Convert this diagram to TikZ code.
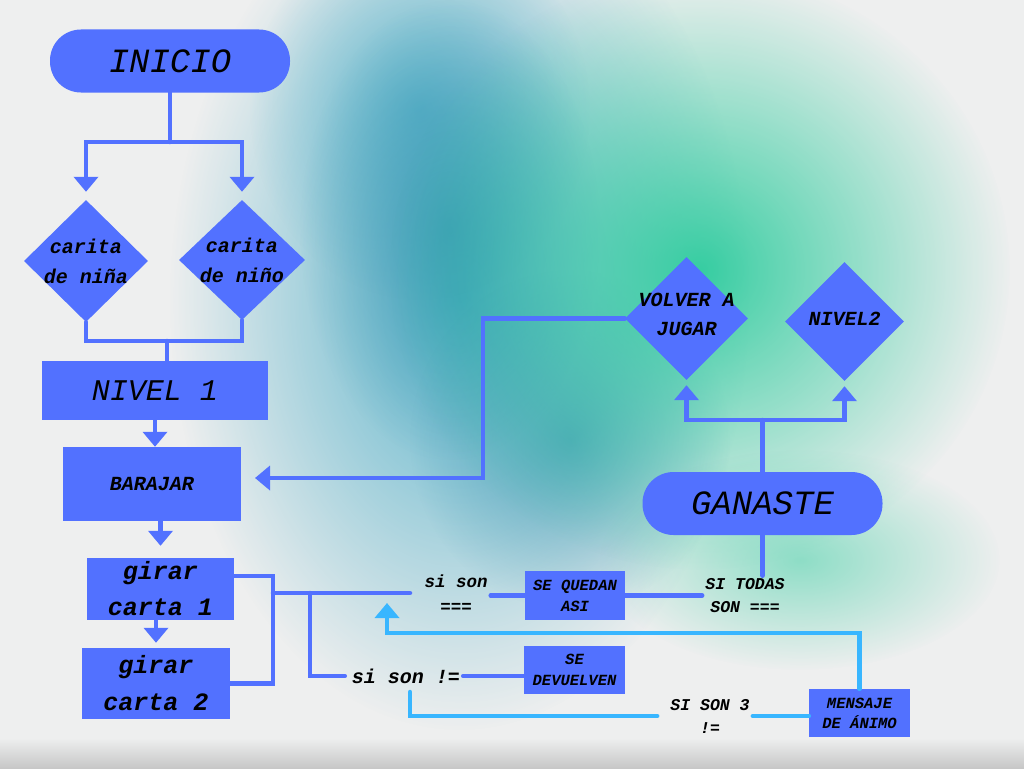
\documentclass[tikz,border=0pt]{standalone}
\usepackage{fontspec}
\newfontfamily\maquina{Liberation Mono}
\usetikzlibrary{shapes.geometric,arrows.meta,fadings}
\definecolor{azulcaja}{RGB}{82,113,255}
\definecolor{celeste}{RGB}{56,182,255}
\definecolor{papel}{RGB}{238,239,239}
\definecolor{acuarela}{RGB}{72,172,198}
\definecolor{tinta}{RGB}{40,140,170}
\definecolor{menta}{RGB}{46,204,158}
\tikzfading[name=mancha, inner color=transparent!0, outer color=transparent!100]
\begin{document}
\begin{tikzpicture}[x=1pt, y=-1pt,
  caja/.style={fill=azulcaja, inner sep=0pt, align=center},
  pildora/.style={caja, rounded corners=31pt, minimum width=240pt, minimum height=63pt,
    font=\maquina\itshape\fontsize{34}{36}\selectfont},
  rombo/.style={fill=azulcaja, diamond, inner sep=0pt},
  rombotxt/.style={font=\maquina\bfseries\itshape\fontsize{20}{30}\selectfont, align=center},
  cajatxt/.style={font=\maquina\bfseries\itshape\fontsize{15.5}{21}\selectfont},
  rotulo/.style={inner sep=3pt, align=center, font=\maquina\bfseries\itshape\fontsize{16.5}{23}\selectfont},
  linea/.style={draw=azulcaja, line width=4.5pt, line cap=round},
  flecha/.style={linea, -{Triangle[width=24pt,length=15pt]}},
  lineaceleste/.style={draw=celeste, line width=4.5pt, line cap=round},
  flechaceleste/.style={lineaceleste, -{Triangle[width=24pt,length=15pt]}}]

    % Fondo acuarela
    \fill[papel] (0,0) rectangle (1024,768);
    \useasboundingbox (0,0) rectangle (1024,768);
    \fill[acuarela, path fading=mancha, fill opacity=0.9] (460,300) ellipse [x radius=290, y radius=430];
    \fill[acuarela, path fading=mancha, fill opacity=0.7] (420,110) ellipse [x radius=170, y radius=190];
    \fill[tinta, path fading=mancha, fill opacity=0.6] (450,230) ellipse [x radius=150, y radius=230];
    \fill[tinta, path fading=mancha, fill opacity=0.6] (570,440) ellipse [x radius=160, y radius=170];
    \fill[menta, path fading=mancha, fill opacity=0.95] (700,270) ellipse [x radius=310, y radius=300];
    \fill[menta, path fading=mancha, fill opacity=0.5] (800,560) ellipse [x radius=200, y radius=110];
    \shade[top color=papel, bottom color=black!22] (0,738) rectangle (1024,768);

    % Inicio y caritas
    \node[pildora] (inicio) at (170,61) {INICIO};
    \node[rombo, minimum width=124pt, minimum height=122pt,
      label={[rombotxt]center:carita\\de niña}] (nina) at (86,261) {};
    \node[rombo, minimum width=126pt, minimum height=120pt,
      label={[rombotxt]center:carita\\de niño}] (nino) at (242,260) {};

    \coordinate (bifurca) at (170,142);
    \draw[linea] (inicio.south) -- (bifurca);
    \draw[flecha] (bifurca) -| ([yshift=8pt]nina.north);
    \draw[flecha] (bifurca) -| ([yshift=8pt]nino.north);

    % Nivel 1 y cartas
    \node[caja, minimum width=226pt, minimum height=59pt,
      font=\maquina\itshape\fontsize{30}{32}\selectfont] (nivel1) at (155,390.5) {NIVEL 1};
    \node[caja, minimum width=178pt, minimum height=74pt,
      font=\maquina\bfseries\itshape\fontsize{20}{22}\selectfont] (barajar) at (152,484) {BARAJAR};
    \node[caja, minimum width=147pt, minimum height=62pt,
      font=\maquina\bfseries\itshape\fontsize{25}{36}\selectfont] (girar1) at (160.5,589) {girar\\carta 1};
    \node[caja, minimum width=148pt, minimum height=71pt,
      font=\maquina\bfseries\itshape\fontsize{25}{37}\selectfont] (girar2) at (156,683.5) {girar\\carta 2};

    \coordinate (union) at (167,341);
    \draw[linea] (nina.south) |- (union);
    \draw[linea] (nino.south) |- (union);
    \draw[linea] (union) -- (union |- nivel1.north);
    \draw[flecha] (nivel1.south) -- (nivel1.south |- barajar.north);
    \draw[flecha] (barajar.south -| girar1.north) -- ([yshift=12pt]girar1.north);
    \draw[flecha] (girar1.south -| girar2.north) -- ([yshift=5pt]girar2.north);

    % Comparar cartas
    \node[rotulo, font=\maquina\bfseries\itshape\fontsize{17.5}{25}\selectfont] (sisonigual) at (456,594) {si son\\===};
    \node[rotulo, font=\maquina\bfseries\itshape\fontsize{20}{22}\selectfont] (sisondif) at (406,676) {si son !=};
    \node[caja, cajatxt, minimum width=100pt, minimum height=49pt] (quedan) at (575,595.5) {SE QUEDAN\\ASI};
    \node[caja, cajatxt, minimum width=101pt, minimum height=48pt] (devuelven) at (574.5,670) {SE\\DEVUELVEN};
    \node[rotulo] (todas) at (745,596) {SI TODAS\\SON ===};
    \node[rotulo] (sison3) at (710,716) {SI SON 3\\!=};
    \node[caja, cajatxt, minimum width=101pt, minimum height=48pt,
      font=\maquina\bfseries\itshape\fontsize{15.5}{20}\selectfont] (mensaje) at (859.5,713) {MENSAJE\\DE ÁNIMO};

    \coordinate (colector) at (273,593);
    \coordinate (extremo) at (410,593);
    \coordinate (bajada) at (310,593);
    \draw[linea] ([yshift=13pt]girar1.east) -| (colector) |- (girar2.east);
    \draw[linea] (colector) -- (extremo);
    \draw[linea] (bajada) |- ([xshift=-4pt]sisondif.west);
    \draw[linea] (quedan.west -| sisonigual.east) -- (quedan.west);
    \draw[linea] (sisondif.east) -- (sisondif.east -| devuelven.west);
    \draw[linea] (quedan.east) -- (quedan.east -| todas.west);

    % Ganaste
    \node[pildora] (ganaste) at (762.5,503.5) {GANASTE};
    \node[rombo, minimum width=123pt, minimum height=123pt,
      label={[rombotxt, yshift=4pt, font=\maquina\bfseries\itshape\fontsize{20}{29}\selectfont]center:VOLVER A\\JUGAR}] (volver) at (686.5,318.5) {};
    \node[rombo, minimum width=119pt, minimum height=119pt,
      label={[rombotxt, yshift=3pt]center:NIVEL2}] (nivel2) at (844.5,321.5) {};

    \draw[linea] (ganaste.south) -- (ganaste.south |- todas.north);
    \coordinate (rama) at (762.5,420);
    \draw[linea] (ganaste.north) -- (rama);
    \draw[flecha] (rama) -| ([yshift=-5pt]volver.south);
    \draw[flecha] (rama) -| ([yshift=-5pt]nivel2.south);
    \coordinate (giro) at (483,478);
    \coordinate (llegada) at (255,478);
    \draw[flecha] (volver.west) -| (giro) -- (llegada);

    % Mensaje de animo
    \coordinate (retorno) at (387,633);
    \coordinate (puntaret) at (387,603);
    \coordinate (arranque) at (410,692);
    \draw[flechaceleste] (mensaje.north) |- (retorno) -- (puntaret);
    \draw[lineaceleste] (arranque) |- ([xshift=-10pt]sison3.west);
    \draw[lineaceleste] (sison3.east) -- (sison3.east -| mensaje.west);
\end{tikzpicture}
\end{document}
